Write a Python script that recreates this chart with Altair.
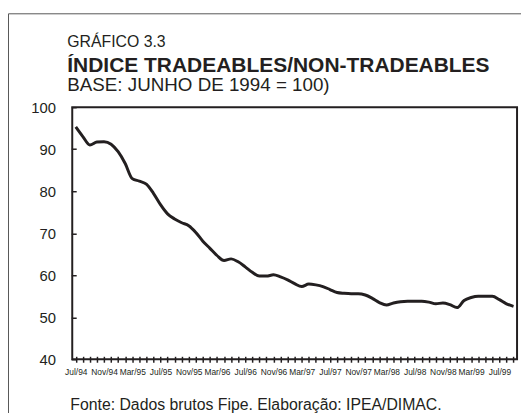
import altair as alt
import pandas as pd

# ---- data -------------------------------------------------------------
month_abbr = ["Jan", "Feb", "Mar", "Apr", "May", "Jun",
              "Jul", "Aug", "Sep", "Oct", "Nov", "Dec"]
# Jul/94 ... Sep/99 (63 monthly observations)
meses = []
for yy in range(94, 100):
    for m in month_abbr:
        meses.append(f"{m}/{yy:02d}")
meses = meses[6:6 + 63]

indice = [95.3, 93.0, 91.0, 91.7, 91.8, 91.2, 89.4, 86.6, 83.0, 82.4,
          81.7, 79.5, 76.8, 74.6, 73.4, 72.5, 71.8, 70.2, 68.1, 66.4,
          64.7, 63.5, 63.9, 63.2, 62.0, 60.7, 59.8, 59.8, 60.1, 59.6,
          58.9, 58.0, 57.3, 57.9, 57.7, 57.3, 56.6, 55.9, 55.7, 55.6,
          55.6, 55.3, 54.5, 53.5, 52.9, 53.4, 53.7, 53.8, 53.8, 53.8,
          53.6, 53.2, 53.4, 53.0, 52.3, 54.0, 54.7, 55.0, 55.0, 55.0,
          54.2, 53.2, 52.6]

y_ticks = [40, 50, 60, 70, 80, 90, 100]
label_months = ["Jul", "Nov", "Mar"]

titulo_1 = "GRÁFICO 3.3"
titulo_2 = "ÍNDICE TRADEABLES/NON-TRADEABLES"
titulo_3 = "BASE: JUNHO DE 1994 = 100)"
fonte = "Fonte: Dados brutos Fipe. Elaboração: IPEA/DIMAC."

df = pd.DataFrame({"mes": meses, "indice": indice})
one = pd.DataFrame({"k": [0]})

INK = "#231f20"
FONT = "Liberation Sans"

label_expr = ("indexof(" + str(label_months) + ", slice(datum.value, 0, 3)) >= 0 "
              "? datum.value : ''")

# ---- marks ------------------------------------------------------------
line = alt.Chart(df).mark_line(
    color=INK, strokeWidth=3, interpolate="monotone"
).encode(
    x=alt.X("mes:O", sort=meses,
            scale=alt.Scale(type="point", padding=0.5),
            axis=alt.Axis(title=None, orient="bottom", offset=-3, domain=False,
                          grid=False, tickSize=6, tickWidth=1.5, tickColor=INK,
                          labelExpr=label_expr, labelAngle=0, labelOverlap=False,
                          labelFont=FONT, labelFontSize=8.5, labelColor=INK,
                          labelPadding=5)),
    y=alt.Y("indice:Q",
            scale=alt.Scale(domain=[40, 100], nice=False, zero=False),
            axis=alt.Axis(title=None, orient="left", offset=-4, domain=False,
                          grid=False, values=y_ticks, tickSize=5, tickWidth=1.5,
                          tickColor=INK, labelFont=FONT, labelFontSize=15,
                          labelColor=INK, labelPadding=16)),
)

frame = alt.Chart(one).mark_rect(
    fill=None, stroke="#555555", strokeWidth=1
).encode(
    x=alt.value(-64.5), y=alt.value(-94.5), x2=alt.value(700), y2=alt.value(700)
)

def txt(s, x, y, size, bold=False):
    return alt.Chart(one).mark_text(
        align="left", baseline="alphabetic", font=FONT, fontSize=size,
        fontWeight="bold" if bold else "normal", color=INK
    ).encode(x=alt.value(x), y=alt.value(y), text=alt.value(s))

t1 = txt(titulo_1, -5, -61, 16)
t2 = txt(titulo_2, -5, -36, 21.2, bold=True)
t3 = txt(titulo_3, -5, -16, 19)
t4 = txt(fonte, -2, 306, 16)

chart = alt.layer(frame, line, t1, t2, t3, t4).properties(
    width=450, height=255,
    autosize=alt.AutoSizeParams(type="none"),
    padding={"left": 65, "top": 98, "right": 4, "bottom": 52},
    background="white",
).configure_view(
    stroke=INK, strokeWidth=2
)

chart.save("out.html", embed_options={"renderer": "svg", "actions": False})
